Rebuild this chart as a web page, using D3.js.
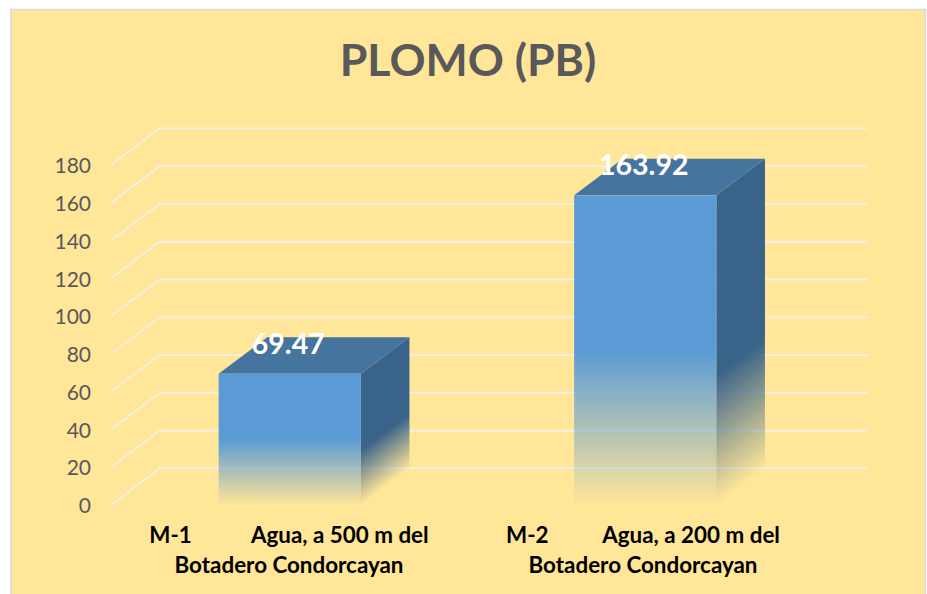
<!DOCTYPE html>
<html>
<head>
<meta charset="utf-8">
<script src="https://cdn.jsdelivr.net/npm/d3@7"></script>
<style>
html,body{margin:0;padding:0;background:#fff}
svg{display:block}
text{font-family:Lato,"Open Sans",sans-serif}
</style>
</head>
<body>
<svg id="c" width="927" height="594"></svg>
<script>
const titleText = "PLOMO (PB)";
const categoryFirstLines = ["M-1           Agua, a 500 m del", "M-2          Agua, a 200 m del"];
const categorySecondLines = ["Botadero Condorcayan", "Botadero Condorcayan"];
const values = [69.47, 163.92];
const valueLabels = ["69.47", "163.92"];
const yTicks = [0, 20, 40, 60, 80, 100, 120, 140, 160, 180];

const depthX = 48.6, depthY = -36.6;
const svg = d3.select("#c");
const defs = svg.append("defs");

svg.append("rect").attr("x", 11).attr("y", 9.5).attr("width", 914.5).attr("height", 590)
  .attr("fill", "#FFE699").attr("stroke", "#D9D9D9").attr("stroke-width", 1.5);

const y = d3.scaleLinear().domain([0, 180]).range([505, 165]);
const x = d3.scaleBand().domain(d3.range(values.length)).range([112, 823]).paddingInner(0.6).paddingOuter(0.3);
const labelX = d3.scalePoint().domain(d3.range(values.length)).range([289, 643]);
const gridLeft = 111, gridRight = 868;

svg.append("text").attr("x", 468).attr("y", 76).attr("text-anchor", "middle")
  .attr("font-size", 44.7).attr("font-weight", 700).attr("fill", "#595959").text(titleText);

// gridlines: a floor-to-back-wall polyline for every tick
svg.append("g").selectAll("path").data(yTicks).join("path")
  .attr("fill", "none").attr("stroke", "#F2EFE6").attr("stroke-width", 1.8)
  .attr("d", d => d3.line()([[gridLeft, y(d)], [gridLeft + depthX, y(d) + depthY], [gridRight, y(d) + depthY]]));

// y axis labels
const axis = svg.append("g").attr("transform", "translate(91,1)")
  .call(d3.axisLeft(y).tickValues(yTicks).tickSize(0).tickPadding(0).tickFormat(d3.format("d")));
axis.select(".domain").remove();
axis.selectAll("text").attr("font-size", 21).attr("fill", "#595959").attr("font-family", "Lato,'Open Sans',sans-serif");

function fade(id, color, y1, y2, k, x0, start) {
  const g = defs.append("linearGradient").attr("id", id).attr("gradientUnits", "userSpaceOnUse")
    .attr("x1", 0).attr("x2", 0).attr("y1", y1).attr("y2", y2)
    .attr("gradientTransform", `matrix(1,${k},0,1,0,${-k * x0})`);
  g.append("stop").attr("offset", 0).attr("stop-color", color);
  g.append("stop").attr("offset", start).attr("stop-color", color);
  g.append("stop").attr("offset", 1).attr("stop-color", color).attr("stop-opacity", 0);
}

const bars = svg.append("g").selectAll("g").data(values).join("g");
bars.each(function (v, i) {
  const g = d3.select(this);
  const x0 = x(i), x1 = x0 + x.bandwidth(), yT = y(v), yB = y(0);
  fade("front" + i, "#5B9BD5", yT, yB, 0, 0, 0.5);
  fade("side" + i, "#3A6389", yT, yB, depthY / depthX, x1, 0.58);
  g.append("path").attr("fill", `url(#side${i})`)
    .attr("d", d3.line()([[x1, yT], [x1 + depthX, yT + depthY], [x1 + depthX, yB + depthY], [x1, yB]]) + "Z");
  g.append("path").attr("fill", "#45749F")
    .attr("d", d3.line()([[x0, yT], [x0 + depthX, yT + depthY], [x1 + depthX, yT + depthY], [x1, yT]]) + "Z");
  g.append("rect").attr("x", x0).attr("y", yT).attr("width", x.bandwidth()).attr("height", yB - yT)
    .attr("fill", `url(#front${i})`);
  g.append("text").attr("x", x0 + x.bandwidth() / 2 - 1.5).attr("y", yT - 20)
    .attr("text-anchor", "middle").attr("font-size", 28.5).attr("font-weight", 700).attr("fill", "#fff")
    .text(valueLabels[i]);
  g.append("text").attr("x", labelX(i)).attr("y", 543).attr("text-anchor", "middle").attr("font-size", 22.4)
    .attr("font-weight", 700).attr("fill", "#000").style("white-space", "pre").text(categoryFirstLines[i]);
  g.append("text").attr("x", labelX(i)).attr("y", 573).attr("text-anchor", "middle").attr("font-size", 22.4)
    .attr("font-weight", 700).attr("fill", "#000").text(categorySecondLines[i]);
});
</script>
</body>
</html>
